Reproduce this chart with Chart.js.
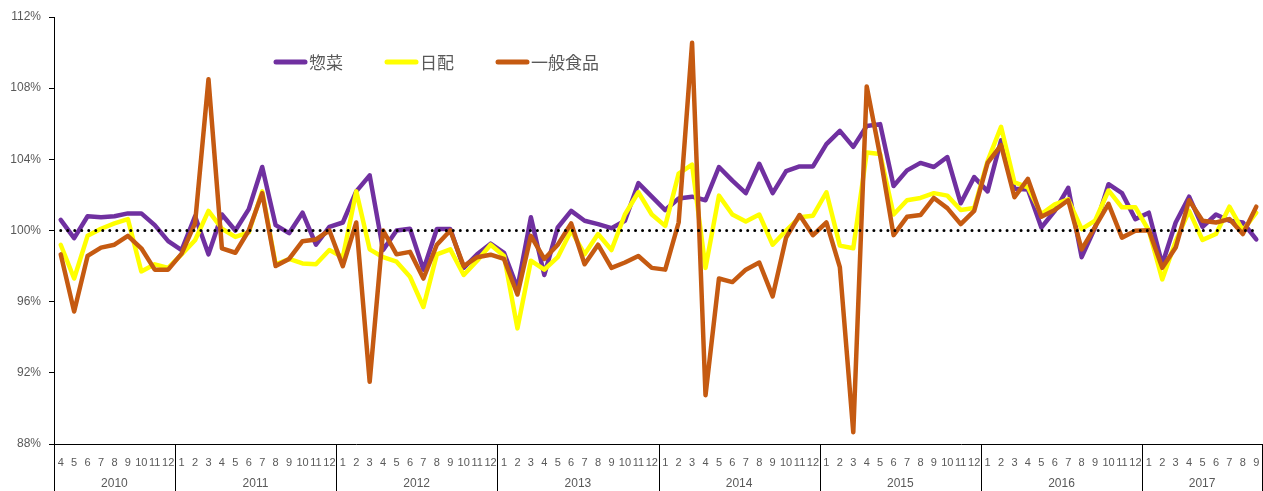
<!DOCTYPE html>
<html lang="ja">
<head>
<meta charset="UTF-8"/>
<title>惣菜・日配・一般食品</title>
<script src="https://cdn.jsdelivr.net/npm/chart.js@4.4.3/dist/chart.umd.min.js"></script>
<style>
  *{box-sizing:border-box;margin:0;padding:0}
  body{background:#fff;width:1263px;height:491px;overflow:hidden}
  .wrap{position:relative;width:1263px;height:491px}
</style>
</head>
<body>
<div class="wrap"><canvas id="c"></canvas></div>
<script>
// ─── Data ─────────────────────────────────────────────────────────────────────
const months = [
  '4','5','6','7','8','9','10','11','12',
  '1','2','3','4','5','6','7','8','9','10','11','12',
  '1','2','3','4','5','6','7','8','9','10','11','12',
  '1','2','3','4','5','6','7','8','9','10','11','12',
  '1','2','3','4','5','6','7','8','9','10','11','12',
  '1','2','3','4','5','6','7','8','9','10','11','12',
  '1','2','3','4','5','6','7','8','9','10','11','12',
  '1','2','3','4','5','6','7','8','9'
];
const years = ['2010','2011','2012','2013','2014','2015','2016','2017'];

const sozai = [
  100.6, 99.57, 100.8, 100.74, 100.8, 100.96, 100.96, 100.3, 99.4,
  98.9, 100.8, 98.66, 100.9, 100.0, 101.2, 103.57, 100.3, 99.85, 101.0, 99.2, 100.2,
  100.45, 102.2, 103.1, 98.9, 100.0, 100.1, 97.8, 100.08, 100.08, 97.9, 98.66, 99.26,
  98.75, 96.77, 100.74, 97.5, 100.17, 101.1, 100.55, 100.36, 100.13, 100.55, 102.66, 101.9,
  101.15, 101.8, 101.9, 101.7, 103.57, 102.8, 102.1, 103.75, 102.1, 103.34, 103.6, 103.6,
  104.85, 105.6, 104.7, 105.87, 105.98, 102.5, 103.38, 103.8, 103.57, 104.13, 101.53, 103.0,
  102.2, 105.07, 102.34, 102.3, 100.17, 101.1, 102.4, 98.5, 100.17, 102.6, 102.1, 100.64,
  101.0, 98.1, 100.45, 101.9, 100.2, 100.9, 100.55, 100.45, 99.5
];
const nichihai = [
  99.2, 97.3, 99.7, 100.1, 100.4, 100.64, 97.7, 98.1, 97.9,
  98.66, 99.45, 101.1, 100.1, 99.64, 99.9, 102.2, 98.1, 98.4, 98.15, 98.1, 98.9,
  98.5, 102.2, 98.94, 98.5, 98.25, 97.4, 95.7, 98.66, 98.94, 97.5, 98.3, 99.2,
  98.57, 94.5, 98.3, 97.8, 98.5, 100.0, 98.66, 99.8, 98.9, 100.9, 102.15, 100.9,
  100.26, 103.2, 103.7, 97.9, 101.96, 100.9, 100.5, 100.9, 99.2, 100.0, 100.74, 100.83,
  102.15, 99.15, 99.0, 104.38, 104.3, 100.9, 101.7, 101.83, 102.1, 101.96, 101.15, 101.26,
  103.9, 105.83, 102.7, 102.43, 100.92, 101.47, 101.75, 100.08, 100.55, 102.25, 101.3, 101.3,
  100.0, 97.25, 99.4, 101.1, 99.47, 99.8, 101.34, 100.0, 101.0
];
const ippan = [
  98.66, 95.45, 98.57, 99.04, 99.2, 99.7, 99.0, 97.8, 97.8,
  98.7, 100.4, 108.5, 99.0, 98.75, 100.0, 102.1, 98.0, 98.4, 99.4, 99.5, 100.0,
  98.0, 100.45, 91.5, 100.0, 98.66, 98.8, 97.3, 99.2, 100.0, 98.0, 98.5, 98.64,
  98.4, 96.4, 99.7, 98.4, 99.2, 100.4, 98.1, 99.2, 97.9, 98.2, 98.57, 97.9,
  97.8, 100.45, 110.55, 90.74, 97.3, 97.1, 97.8, 98.2, 96.3, 99.6, 100.87, 99.74,
  100.45, 97.94, 88.66, 108.1, 104.2, 99.74, 100.77, 100.87, 101.83, 101.26, 100.36, 101.1,
  103.8, 104.8, 101.87, 102.9, 100.77, 101.15, 101.7, 98.94, 100.2, 101.5, 99.6, 99.98,
  100.02, 97.9, 99.04, 101.7, 100.55, 100.45, 100.64, 99.8, 101.34
];
const base100 = months.map(() => 100);

const yMin = 88, yMax = 112, yStep = 4;

// ─── Plugins ──────────────────────────────────────────────────────────────────
// legend inside the plot, left of centre
const legendItems = {
  id: 'legendItems',
  afterDraw(chart) {
    const ctx = chart.ctx;
    const pos = [274, 385, 496];
    ctx.save();
    ctx.font = '17px "Noto Sans CJK JP", sans-serif';
    ctx.textBaseline = 'middle';
    chart.data.datasets.forEach((ds, k) => {
      if (!ds.label) return;
      const x = pos[k], y = 62;
      ctx.strokeStyle = ds.borderColor;
      ctx.lineWidth = 5;
      ctx.lineCap = 'round';
      ctx.beginPath(); ctx.moveTo(x + 2, y); ctx.lineTo(x + 31, y); ctx.stroke();
      ctx.fillStyle = '#595959';
      ctx.fillText(ds.label, x + 35, y + 1);
    });
    ctx.restore();
  }
};

// year row under the month ticks
const yearRow = {
  id: 'yearRow',
  afterDraw(chart) {
    const xs = chart.scales.x, ctx = chart.ctx;
    const top = xs.top, bottom = chart.height;
    const edges = [xs.left];
    months.forEach((m, i) => {
      if (i > 0 && m === '1') edges.push((xs.getPixelForValue(i - 1) + xs.getPixelForValue(i)) / 2);
    });
    edges.push(xs.right - 1);
    ctx.save();
    ctx.strokeStyle = '#000';
    ctx.lineWidth = 1;
    edges.forEach(x => {
      const px = Math.round(x) + 0.5;
      ctx.beginPath(); ctx.moveTo(px, top); ctx.lineTo(px, bottom); ctx.stroke();
    });
    ctx.fillStyle = '#595959';
    ctx.font = '12px "Liberation Sans", Arial, sans-serif';
    ctx.textAlign = 'center';
    ctx.textBaseline = 'middle';
    years.forEach((yr, k) => {
      ctx.fillText(yr, (edges[k] + edges[k + 1]) / 2, 484);
    });
    ctx.restore();
  }
};

// ─── Chart ────────────────────────────────────────────────────────────────────
function line(label, data, color, order) {
  return { label, data, borderColor: color, backgroundColor: color, borderWidth: 4.5,
    pointRadius: 0, tension: 0, borderJoinStyle: 'round', borderCapStyle: 'round', order };
}

new Chart(document.getElementById('c'), {
  type: 'line',
  data: {
    labels: months,
    datasets: [
      line('惣菜', sozai, '#7030A0', 3),
      line('日配', nichihai, '#FFFF00', 2),
      line('一般食品', ippan, '#C55A11', 1),
      { label: '', data: base100, borderColor: '#000', borderWidth: 3, borderDash: [0.01, 7],
        borderCapStyle: 'round', pointRadius: 0, order: 0 },
    ]
  },
  options: {
    responsive: true, maintainAspectRatio: false, animation: false,
    layout: { padding: { top: 17, left: 0, right: 0, bottom: 0 } },
    plugins: { legend: { display: false }, tooltip: { enabled: false } },
    scales: {
      x: {
        offset: true,
        grid: { display: true, drawOnChartArea: false, drawTicks: true, tickLength: 12, color: 'rgba(0,0,0,0)' },
        border: { color: '#000', width: 1 },
        ticks: { autoSkip: false, maxRotation: 0, minRotation: 0, padding: 0,
          color: '#595959', font: { family: '"Liberation Sans", Arial, sans-serif', size: 11 } },
        afterFit: s => { s.height = 47; }
      },
      y: {
        min: yMin, max: yMax,
        grid: { display: true, drawOnChartArea: false, drawTicks: true, tickLength: 5, color: '#000' },
        border: { color: '#000', width: 1 },
        ticks: { stepSize: yStep, padding: 8, color: '#595959',
          font: { family: '"Liberation Sans", Arial, sans-serif', size: 12 },
          callback: v => v + '%' },
        afterFit: s => { s.width = 54; }
      }
    }
  },
  plugins: [legendItems, yearRow]
});
</script>
</body>
</html>
